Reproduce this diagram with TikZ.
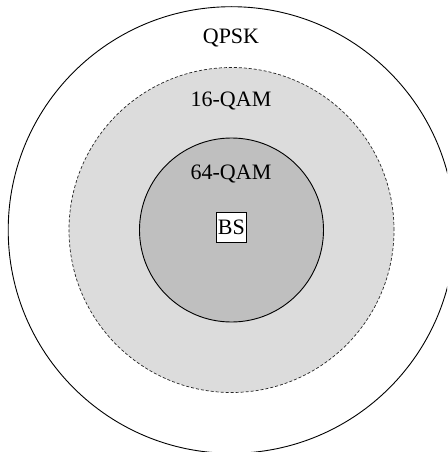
\documentclass[tikz,border=0pt]{standalone}
\usepackage{fontspec}
\setmainfont{Liberation Serif}
\begin{document}
\begin{tikzpicture}[x=1pt,y=-1pt,
  lbl/.style={font=\fontsize{22}{25}\selectfont, inner sep=0pt, anchor=base},
  zone/.style={circle, draw=black, line width=0.9pt, inner sep=0pt}]
\useasboundingbox (0,0) rectangle (447,452);
\begin{scope}
\clip (0,0) rectangle (447,452);
\node[zone, fill=white, minimum size=446.6pt] (qpsk) at (231.5,230) {};
\node[zone, fill={rgb,255:red,220;green,220;blue,220}, draw=black!85, line width=0.7pt,
      dash pattern=on 3pt off 2pt, minimum size=325pt] (qam16) at (231.5,230) {};
\node[zone, fill={rgb,255:red,191;green,191;blue,191}, minimum size=184pt] (qam64) at (231.5,230) {};
\end{scope}
\node[lbl] (tq) at (231,43.5) {QPSK};
\node[lbl] (t16) at (231,106.7) {16-QAM};
\node[lbl] (t64) at (231,179) {64-QAM};
\node[draw=black, line width=0.9pt, fill=white, minimum width=30pt, minimum height=30pt,
      inner sep=0pt, font=\fontsize{22}{25}\selectfont] (bs) at (231.3,227.3) {BS};
\end{tikzpicture}
\end{document}
